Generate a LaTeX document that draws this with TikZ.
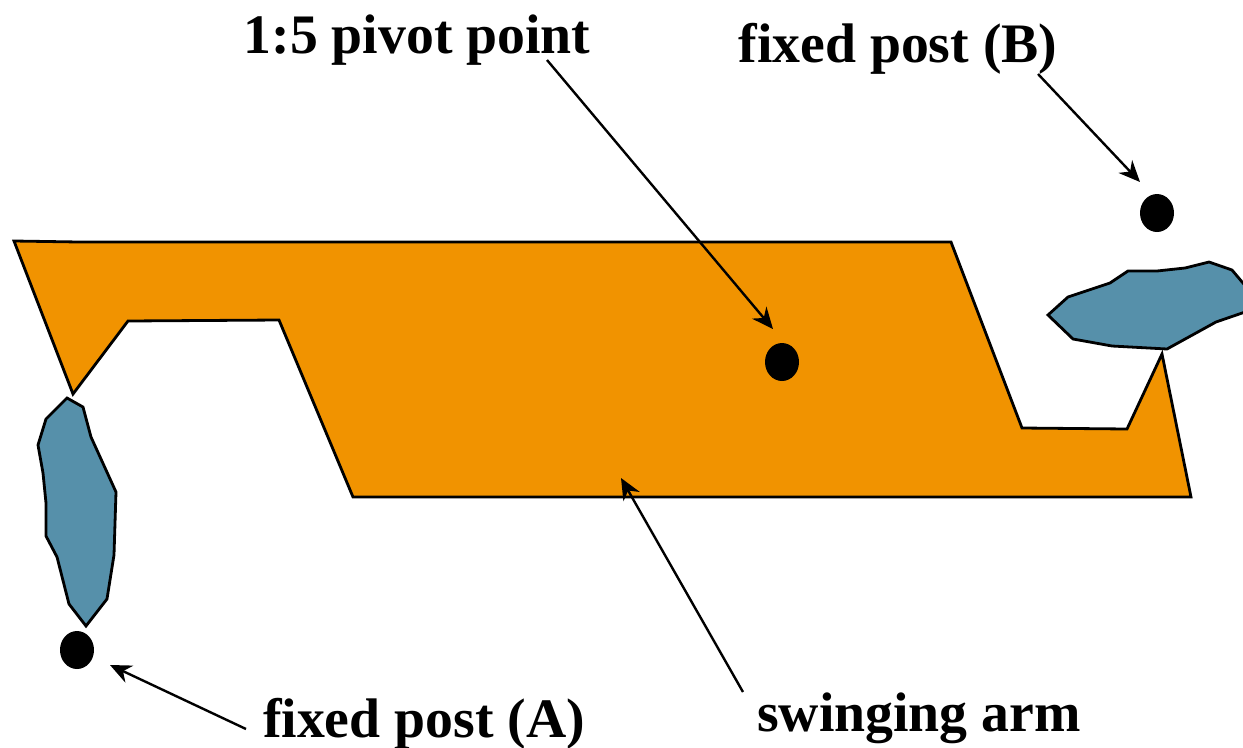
\documentclass[tikz,border=0pt]{standalone}
\usepackage{fontspec}
\setmainfont{Liberation Serif}
\usetikzlibrary{arrows.meta}
\usetikzlibrary{shapes.geometric}
\tikzset{
  blob/.style={draw=black,line width=2.1pt,line join=miter,fill=postblue},
  armshape/.style={draw=black,line width=2.1pt,line join=miter,fill=armorange},
  dot/.style={ellipse,fill=black,inner sep=0pt,minimum width=25.5pt,minimum height=28.5pt},
  lbl/.style={font=\bfseries\fontsize{41.8pt}{44pt}\selectfont,inner sep=0pt,anchor=base},
  pointer/.style={draw=black,line width=1.8pt,-{Stealth[length=16pt,width=14pt]}}
}
\definecolor{postblue}{RGB}{86,144,170}
\definecolor{armorange}{RGB}{241,147,0}
\begin{document}
\begin{tikzpicture}[x=0.75pt,y=-0.75pt]
\useasboundingbox (0,0) rectangle (1243,747);
\begin{scope}
\clip (0,0) rectangle (1243,747);
\draw[armshape] (14,241) -- (79,242) -- (951,242) -- (1022,428) -- (1127,429) -- (1162,354) -- (1191,497) -- (353,497) -- (279,320) -- (128,321) -- (73,394) -- cycle;
\draw[blob] (1048,315) -- (1068,297) -- (1110,283) -- (1128,271) -- (1157,271) -- (1185,268) -- (1209,262) -- (1232,270) -- (1248,289) -- (1248,311) -- (1216,322) -- (1167,349) -- (1112,346) -- (1073,339) -- cycle;
\draw[blob] (67,398) -- (83,407) -- (91,437) -- (116,492) -- (114,555) -- (107,599) -- (86,626) -- (69,604) -- (57,557) -- (46,536) -- (46,503) -- (43,473) -- (38,445) -- (46,419) -- cycle;
\end{scope}
\node[dot] (postA) at (77,650) {};
\node[dot] (pivot) at (782,362) {};
\node[dot] (postB) at (1157,213) {};
\node[lbl] (tPivot) at (417,53) {1:5 pivot point};
\node[lbl] (tB) at (898,62) {fixed post (B)};
\node[lbl] (tA) at (424,737) {fixed post (A)};
\node[lbl] (tArm) at (919,731) {swinging arm};
\coordinate (sPivot) at (547,60);
\coordinate (ePivot) at (773,329);
\coordinate (sB) at (1038,74);
\coordinate (eB) at (1140,182);
\coordinate (sA) at (246,729);
\coordinate (eA) at (110,665);
\coordinate (sArm) at (743,692);
\coordinate (eArm) at (621,478);
\draw[pointer] (sPivot) -- (ePivot);
\draw[pointer] (sB) -- (eB);
\draw[pointer] (sA) -- (eA);
\draw[pointer] (sArm) -- (eArm);
\end{tikzpicture}
\end{document}
